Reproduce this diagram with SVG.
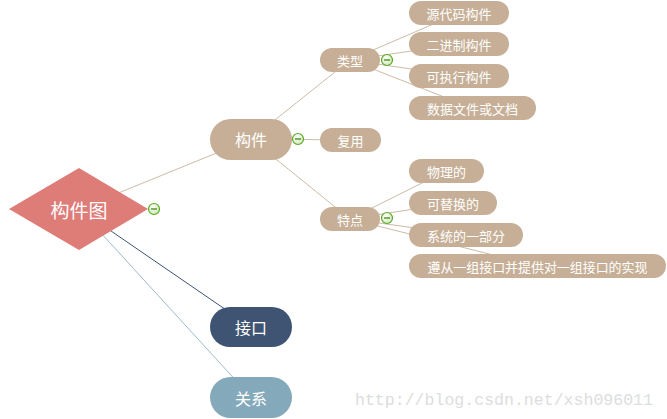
<svg xmlns="http://www.w3.org/2000/svg" width="667" height="419" viewBox="0 0 667 419">
<style>
.e{stroke:#CDBBA6;stroke-width:1;fill:none}
.n{fill:#C6AF96}
.t{fill:#fff;font-family:"Noto Sans CJK SC","Noto Sans",sans-serif;text-anchor:middle;dominant-baseline:central}
.s{font-size:13px}
.m{font-size:16px}
.c{fill:url(#cg);stroke:#5DA728;stroke-width:1.2}
.cm{stroke:#3E8A12;stroke-width:1.3}
</style>
<defs>
<radialGradient id="cg" cx="0.4" cy="0.35" r="0.7">
<stop offset="0" stop-color="#ffffff"/>
<stop offset="1" stop-color="#CDE8B4"/>
</radialGradient>
</defs>
<rect width="667" height="419" fill="#fff"/>
<g id="connectors">
<line class="e" x1="79" y1="209" x2="251" y2="139"/>
<line x1="79" y1="209" x2="251" y2="327" stroke="#3E5472" stroke-width="1"/>
<line x1="79" y1="209" x2="251" y2="397" stroke="#9DBBC9" stroke-width="1"/>
<line class="e" x1="251" y1="139" x2="350" y2="60"/>
<line class="e" x1="251" y1="139" x2="350" y2="140"/>
<line class="e" x1="251" y1="139" x2="350" y2="219"/>
<line class="e" x1="350" y1="60" x2="459" y2="13"/>
<line class="e" x1="350" y1="60" x2="459" y2="44"/>
<line class="e" x1="350" y1="60" x2="459" y2="76"/>
<line class="e" x1="350" y1="60" x2="472" y2="108"/>
<line class="e" x1="350" y1="219" x2="446" y2="171"/>
<line class="e" x1="350" y1="219" x2="453" y2="203"/>
<line class="e" x1="350" y1="219" x2="466" y2="235"/>
<line class="e" x1="350" y1="219" x2="537" y2="266"/>
</g>
<g id="root">
<polygon points="9,209 79,168 148,209 79,250" fill="#DE7C78"/>
<text class="t" x="79" y="209" font-size="19">构件图</text>
<circle class="c" cx="154" cy="209" r="5.5"/><line class="cm" x1="151" y1="209" x2="157" y2="209"/>
</g>
<g id="goujian">
<rect class="n" x="210" y="119" width="82" height="41" rx="20.5"/>
<text class="t m" x="251" y="139">构件</text>
<circle class="c" cx="298" cy="139" r="5.5"/><line class="cm" x1="295" y1="139" x2="301" y2="139"/>
</g>
<g id="leixing">
<rect class="n" x="320" y="48" width="60" height="24" rx="12"/>
<text class="t s" x="350" y="60">类型</text>
<circle class="c" cx="387" cy="60" r="5.5"/><line class="cm" x1="384" y1="60" x2="390" y2="60"/>
</g>
<g id="fuyong">
<rect class="n" x="320" y="128" width="61" height="24" rx="12"/>
<text class="t s" x="350.5" y="140">复用</text>
</g>
<g id="tedian">
<rect class="n" x="320" y="207" width="60" height="24" rx="12"/>
<text class="t s" x="350" y="219">特点</text>
<circle class="c" cx="387" cy="218" r="5.5"/><line class="cm" x1="384" y1="218" x2="390" y2="218"/>
</g>
<g id="t1"><rect class="n" x="409" y="1" width="100" height="24" rx="12"/><text class="t s" x="459" y="13">源代码构件</text></g>
<g id="t2"><rect class="n" x="409" y="32" width="100" height="24" rx="12"/><text class="t s" x="459" y="44">二进制构件</text></g>
<g id="t3"><rect class="n" x="409" y="64" width="100" height="24" rx="12"/><text class="t s" x="459" y="76">可执行构件</text></g>
<g id="t4"><rect class="n" x="409" y="96" width="127" height="24" rx="12"/><text class="t s" x="472.5" y="108">数据文件或文档</text></g>
<g id="f1"><rect class="n" x="409" y="159" width="75" height="24" rx="12"/><text class="t s" x="446.5" y="171">物理的</text></g>
<g id="f2"><rect class="n" x="409" y="191" width="88" height="24" rx="12"/><text class="t s" x="453" y="203">可替换的</text></g>
<g id="f3"><rect class="n" x="409" y="223" width="114" height="24" rx="12"/><text class="t s" x="466" y="235">系统的一部分</text></g>
<g id="f4"><rect class="n" x="409" y="254" width="257" height="24" rx="12"/><text class="t s" x="537.5" y="266" textLength="220" lengthAdjust="spacing">遵从一组接口并提供对一组接口的实现</text></g>
<g id="jiekou">
<rect x="210" y="307" width="82" height="40" rx="20" fill="#3E5472"/>
<text class="t m" x="251" y="327">接口</text>
</g>
<g id="guanxi">
<rect x="210" y="377" width="82" height="41" rx="20.5" fill="#84A9BA"/>
<text class="t m" x="251" y="397.5">关系</text>
</g>
<text x="355" y="405" font-family="Liberation Mono, monospace" font-size="16.5" fill="#DDDDDD" textLength="298" lengthAdjust="spacingAndGlyphs">http://blog.csdn.net/xsh096011</text>
</svg>
